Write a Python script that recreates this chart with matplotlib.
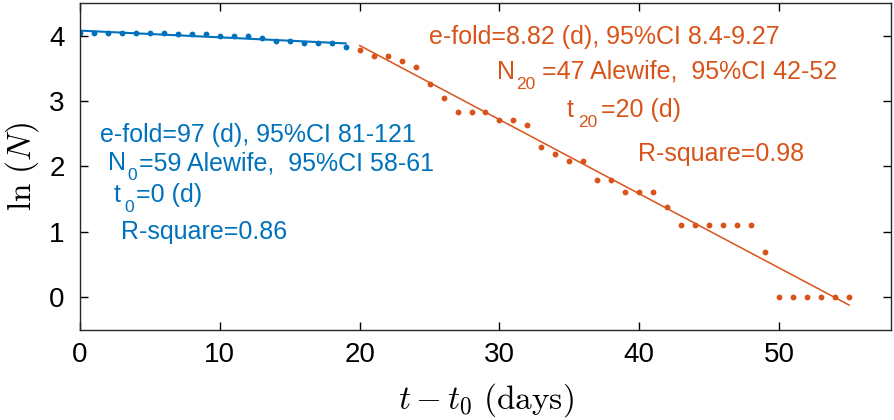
import numpy as np
import matplotlib
matplotlib.use("Agg")
import matplotlib.pyplot as plt
from matplotlib.transforms import offset_copy

plt.rcParams['mathtext.fontset'] = 'cm'
plt.rcParams['font.family'] = ['Liberation Sans', 'DejaVu Sans']

# early phase (days 0-19), counts of alewife
days_early = np.arange(0, 20)
counts_early = [57, 57, 57, 57, 57, 57, 57, 56, 56, 56,
                54, 54, 54, 53, 50, 50, 49, 49, 49, 46]

# late phase (days 20-55)
days_late = np.arange(20, 56)
counts_late = [44, 40, 40, 37, 34, 26, 21, 17, 17, 17,
               15, 15, 14, 10, 9, 8, 8, 6, 6, 5,
               5, 5, 4, 3, 3, 3, 3, 3, 3, 2,
               1, 1, 1, 1, 1, 1]

# fit parameters
efold_early, N0, t0 = 97.0, 59.0, 0
efold_late, N20, t20 = 8.82, 47.0, 20

blue = '#0072BD'
orange = '#D95319'

fig = plt.figure(figsize=(8.95, 4.2), dpi=100)
ax = fig.add_axes([0.0894, 0.2143, 0.9061, 0.7786])
ax.set_xlim(0, 58)
ax.set_ylim(-0.5, 4.5)

ax.plot(days_early, np.log(counts_early), 'o', color=blue, ms=4.2, mec='none')
ax.plot(days_early, np.log(N0) - (days_early - t0) / efold_early, '-', color=blue, lw=1.5)

ax.plot(days_late, np.log(counts_late), 'o', color=orange, ms=4.2, mec='none')
ax.plot(days_late, np.log(N20) - (days_late - t20) / efold_late, '-', color=orange, lw=1.1)

fs = 18
fs_sub = 12.5
renderer = fig.canvas.get_renderer()


def width_pt(s, size):
    tmp = fig.text(0, 0, s, fontsize=size)
    w = tmp.get_window_extent(renderer).width * 72.0 / fig.dpi
    tmp.remove()
    return w


# matlab-style text with a big, dropped subscript
def sub_text(x, y, main, sub, rest, color, gap1=1, gap2=1):
    ax.text(x, y, main, color=color, fontsize=fs, va='baseline')
    w1 = width_pt(main, fs)
    w2 = width_pt(sub, fs_sub)
    tr_sub = offset_copy(ax.transData, fig=fig, x=w1 + gap1, y=-7, units='points')
    ax.text(x, y, sub, color=color, fontsize=fs_sub, va='baseline', transform=tr_sub)
    tr_rest = offset_copy(ax.transData, fig=fig, x=w1 + gap1 + w2 + gap2, y=0, units='points')
    ax.text(x, y, rest, color=color, fontsize=fs, va='baseline', transform=tr_rest)


ax.text(1.45, 2.37, 'e-fold=97 (d), 95%CI 81-121', color=blue, fontsize=fs, va='baseline')
sub_text(2.0, 1.94, 'N', '0', '=59 Alewife,  95%CI 58-61', blue, 1, 1.5)
sub_text(2.4, 1.45, 't', '0', '=0 (d)', blue, 3, 1)
ax.text(2.95, 0.885, 'R-square=0.86', color=blue, fontsize=fs, va='baseline')

ax.text(24.95, 3.87, 'e-fold=8.82 (d), 95%CI 8.4-9.27', color=orange, fontsize=fs, va='baseline')
sub_text(29.8, 3.34, 'N', '20', '=47 Alewife,  95%CI 42-52', orange, 1, 5)
sub_text(34.8, 2.75, 't', '20', '=20 (d)', orange, 3, 3)
ax.text(39.9, 2.08, 'R-square=0.98', color=orange, fontsize=fs, va='baseline')

ax.set_xticks([0, 10, 20, 30, 40, 50])
ax.set_yticks([0, 1, 2, 3, 4])
ax.tick_params(direction='in', top=True, right=True, labelsize=20, length=6, width=1)
ax.tick_params(axis='x', pad=9)
ax.tick_params(axis='y', pad=11)
for s in ax.spines.values():
    s.set_linewidth(1.0)
    s.set_color('#262626')

ax.set_xlabel(r'$t - t_0\ \mathrm{(days)}$', fontsize=24, labelpad=9)
ax.set_ylabel(r'$\mathrm{ln}\ (N)$', fontsize=24, labelpad=6)

fig.savefig('out.png', dpi=100)
